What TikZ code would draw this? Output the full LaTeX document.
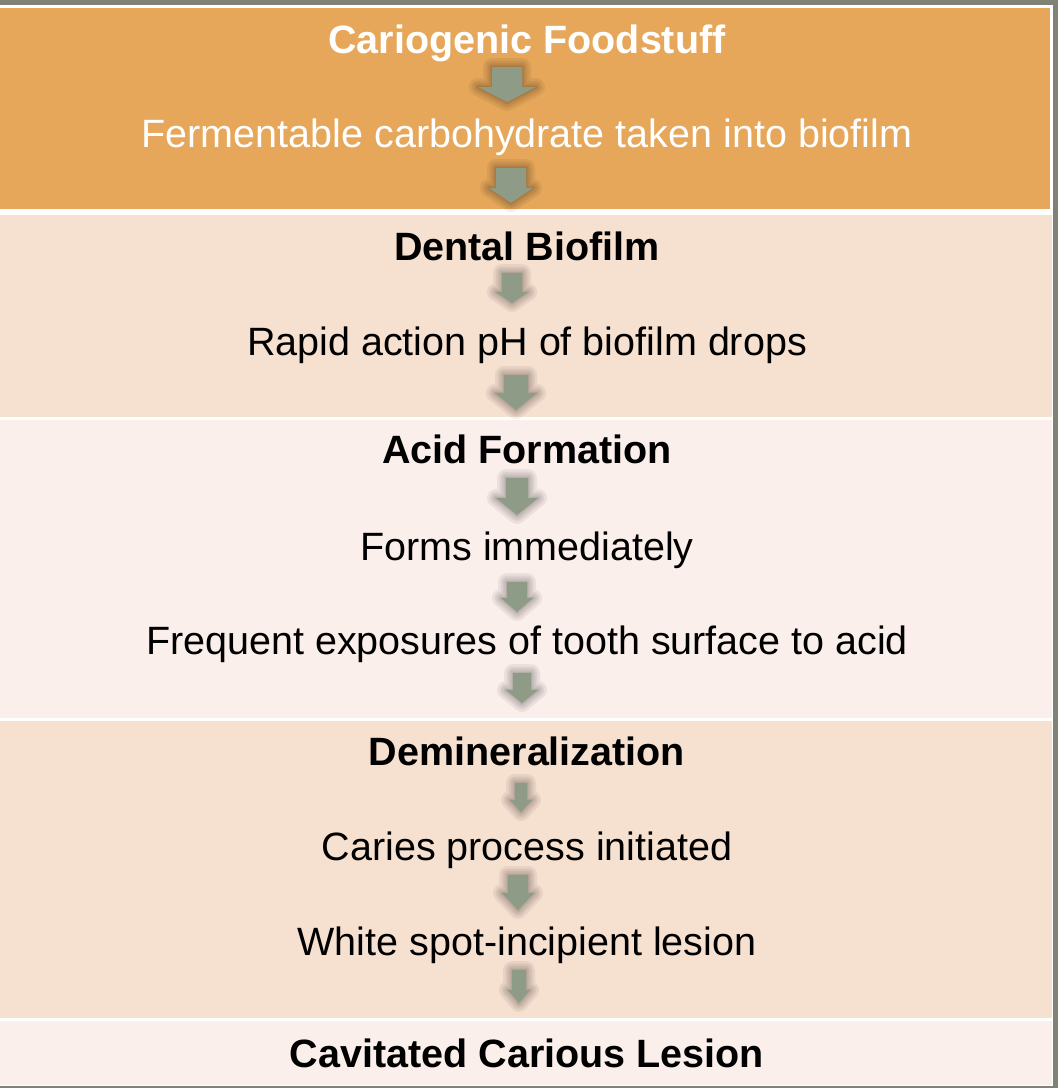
\documentclass[tikz,border=0pt]{standalone}
\usepackage{fontspec}
\setmainfont{Liberation Sans}
\usepackage{xcolor}

\definecolor{slidegrey}{HTML}{7F8275}
\definecolor{foodorange}{HTML}{E6A75A}
\definecolor{bandpeach}{HTML}{F6E0D0}
\definecolor{bandlight}{HTML}{FAEFEA}
\definecolor{arrowgreen}{HTML}{8E9C87}

\tikzset{
  stage/.style={anchor=base, inner sep=0pt, font=\fontsize{39.5}{47}\selectfont\bfseries},
  step text/.style={anchor=base, inner sep=0pt, font=\fontsize{39.5}{47}\selectfont},
  arrowfill/.style={fill=arrowgreen},
  arrowglow/.style={draw=black, opacity=0.06, line join=round}
}

% x, top, head start, tip, shaft half width, head half width
\newcommand{\flowarrow}[6]{%
  \foreach \w in {18,13,9,5,2}{%
    \draw[arrowglow, line width=\w pt] (#1-#5,#2) -- (#1+#5,#2) -- (#1+#5,#3) -- (#1+#6,#3)
      -- (#1,#4) -- (#1-#6,#3) -- (#1-#5,#3) -- cycle;}
  \fill[arrowfill] (#1-#5,#2) -- (#1+#5,#2) -- (#1+#5,#3) -- (#1+#6,#3)
    -- (#1,#4) -- (#1-#6,#3) -- (#1-#5,#3) -- cycle;}

\begin{document}
\begin{tikzpicture}[x=1pt, y=-1pt]
    % Bands
    \fill[slidegrey] (0,0) rectangle (1058,1088);
    \fill[white] (0,5) rectangle (1053,1086);
    \fill[foodorange] (0,8) rectangle (1050,209);
    \fill[bandpeach] (0,215) rectangle (1052,417);
    \fill[bandlight] (0,420) rectangle (1052,718);
    \fill[bandpeach] (0,721) rectangle (1052,1018);
    \fill[bandlight] (0,1021) rectangle (1052,1085);
    % Nodes
    \node[stage, white] (food) at (527,53) {Cariogenic Foodstuff};
    \node[step text, white] (ferment) at (527,147) {Fermentable carbohydrate taken into biofilm};
    \node[stage] (biofilm) at (527,260) {Dental Biofilm};
    \node[step text] (rapid) at (527,355) {Rapid action pH of biofilm drops};
    \node[stage] (acid) at (527,463) {Acid Formation};
    \node[step text] (forms) at (527,560) {Forms immediately};
    \node[step text] (exposure) at (527,654) {Frequent exposures of tooth surface to acid};
    \node[stage] (demin) at (527,765) {Demineralization};
    \node[step text] (caries) at (527,860) {Caries process initiated};
    \node[step text] (spot) at (527,955) {White spot-incipient lesion};
    \node[stage] (lesion) at (527,1067) {Cavitated Carious Lesion};
    % Block arrows
    \flowarrow{507}{67}{87}{102}{15}{29}
    \flowarrow{511}{168}{188}{203}{15}{22}
    \flowarrow{512}{273}{292}{303}{10}{16}
    \flowarrow{516}{375}{393}{410}{12}{21}
    \flowarrow{517}{478}{498}{515}{11}{21}
    \flowarrow{517}{582}{598}{612}{10}{16}
    \flowarrow{522}{673}{690}{703}{9}{16}
    \flowarrow{521}{783}{800}{812}{6}{11}
    \flowarrow{518}{875}{893}{910}{10}{16}
    \flowarrow{519}{970}{990}{1003}{7}{11}
\end{tikzpicture}
\end{document}
